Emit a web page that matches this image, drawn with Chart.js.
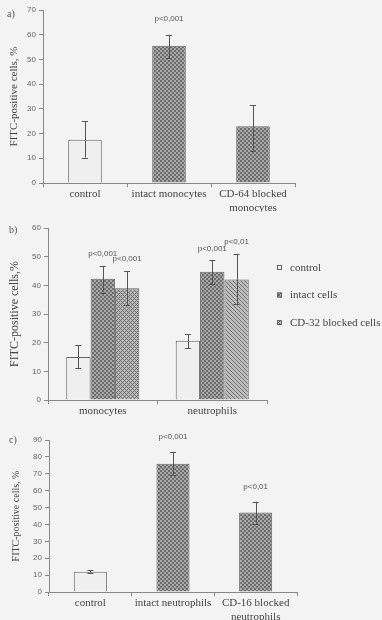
<!DOCTYPE html>
<html>
<head>
<meta charset="utf-8">
<script src="https://cdn.jsdelivr.net/npm/chart.js@4"></script>
<style>
  body { margin: 0; background: #f3f3f3; width: 382px; height: 620px; overflow: hidden; position: relative; }
  .panel { position: absolute; left: 0; }
  .tag { position: absolute; font: 10px 'Liberation Serif', serif; color: #555; }
</style>
</head>
<body>
<div class="panel" style="top:0"><canvas id="chartA" width="382" height="212"></canvas></div>
<div class="panel" style="top:212px"><canvas id="chartB" width="382" height="206"></canvas></div>
<div class="panel" style="top:418px"><canvas id="chartC" width="382" height="202"></canvas></div>
<span class="tag" style="left:7px;top:8px">a)</span>
<span class="tag" style="left:9px;top:224px">b)</span>
<span class="tag" style="left:9px;top:434px">c)</span>
<script>
// panel a
const aLabels = ['control', 'intact monocytes', ['CD-64 blocked', 'monocytes']];
const aValues = [17.5, 55.5, 23];
const aLow = [10.3, 50.5, 13];
const aHigh = [25, 60, 31.5];
const aP = ['', 'p<0,001', ''];

// panel b
const bLabels = ['monocytes', 'neutrophils'];
const bSeries = ['control', 'intact cells', 'CD-32 blocked cells'];
const bControl = [15, 20.7];
const bControlLow = [11, 18];
const bControlHigh = [19.2, 23];
const bIntact = [42.3, 44.7];
const bIntactLow = [37.5, 40.5];
const bIntactHigh = [46.8, 48.7];
const bBlocked = [39, 42];
const bBlockedLow = [33, 33.5];
const bBlockedHigh = [45, 51];
const bIntactP = ['p<0,001', 'p<0,001'];
const bBlockedP = ['p<0,001', 'p<0,01'];

// panel c
const cLabels = ['control', 'intact neutrophils', ['CD-16 blocked', 'neutrophils']];
const cValues = [12, 76, 47];
const cLow = [11, 69, 40];
const cHigh = [13, 83, 53.5];
const cP = ['', 'p<0,001', 'p<0,01'];

function makePattern(kind) {
  const c = document.createElement('canvas');
  c.width = 4; c.height = 4;
  const g = c.getContext('2d');
  if (kind === 'checker') {
    g.fillStyle = '#a8a8a8'; g.fillRect(0, 0, 4, 4);
    g.fillStyle = '#6c6c6c';
    g.fillRect(0, 0, 2, 2); g.fillRect(2, 2, 2, 2);
  } else if (kind === 'cross') {
    g.fillStyle = '#b8b8b8'; g.fillRect(0, 0, 4, 4);
    g.fillStyle = '#727272';
    for (let x = 0; x < 4; x++) for (let y = 0; y < 4; y++)
      if ((x + y) % 4 === 0 || ((x - y) + 4) % 4 === 0) g.fillRect(x, y, 1, 1);
  } else {
    g.fillStyle = '#bdbdbd'; g.fillRect(0, 0, 4, 4);
    g.fillStyle = '#707070';
    for (let x = 0; x < 4; x++) for (let y = 0; y < 4; y++)
      if (((x - y) + 4) % 4 === 0) g.fillRect(x, y, 1, 1);
  }
  return g.createPattern(c, 'repeat');
}
const pChecker = makePattern('checker');
const pCross = makePattern('cross');
const pStripe = makePattern('stripe');
const lightFill = '#efefef';

const serif = "'Liberation Serif', 'Times New Roman', serif";
const sans = "'Liberation Sans', Arial, sans-serif";

const errorBars = {
  id: 'errorBars',
  afterDatasetsDraw(chart) {
    const ctx = chart.ctx;
    const y = chart.scales.y;
    const pOff = chart.options.pOffset || 13;
    chart.data.datasets.forEach((ds, i) => {
      const meta = chart.getDatasetMeta(i);
      meta.data.forEach((bar, j) => {
        const yl = y.getPixelForValue(ds.errLow[j]);
        const yh = y.getPixelForValue(ds.errHigh[j]);
        ctx.save();
        ctx.strokeStyle = '#555';
        ctx.lineWidth = 1;
        ctx.beginPath();
        ctx.moveTo(Math.round(bar.x) + 0.5, yl); ctx.lineTo(Math.round(bar.x) + 0.5, yh);
        ctx.moveTo(bar.x - 3, Math.round(yl) + 0.5); ctx.lineTo(bar.x + 3, Math.round(yl) + 0.5);
        ctx.moveTo(bar.x - 3, Math.round(yh) + 0.5); ctx.lineTo(bar.x + 3, Math.round(yh) + 0.5);
        ctx.stroke();
        if (ds.pText && ds.pText[j]) {
          ctx.fillStyle = '#555';
          ctx.font = '8px ' + sans;
          ctx.textAlign = 'center';
          ctx.textBaseline = 'middle';
          ctx.fillText(ds.pText[j], bar.x, yh - pOff);
        }
        ctx.restore();
      });
    });
  }
};

const sideLegend = {
  id: 'sideLegend',
  afterDraw(chart) {
    if (!chart.options.sideLegend) return;
    const ctx = chart.ctx;
    const fills = [lightFill, pChecker, pCross];
    bSeries.forEach((name, i) => {
      const yy = 56 + i * 27.5;
      ctx.save();
      ctx.fillStyle = fills[i];
      ctx.fillRect(277, yy - 3, 5, 5);
      ctx.strokeStyle = '#666';
      ctx.lineWidth = 1;
      ctx.strokeRect(277.5, yy - 2.5, 4, 4);
      ctx.fillStyle = '#444';
      ctx.font = '11px ' + serif;
      ctx.textBaseline = 'middle';
      ctx.fillText(name, 290, yy);
      ctx.restore();
    });
  }
};

function makeOptions(o) {
  return {
    responsive: false,
    animation: false,
    pOffset: o.pOffset,
    sideLegend: o.sideLegend,
    layout: { padding: { top: o.top, right: o.right, left: 0, bottom: 0 } },
    plugins: { legend: { display: false }, tooltip: { enabled: false } },
    scales: {
      x: {
        grid: { drawOnChartArea: false, offset: true, tickLength: 4, color: '#888' },
        border: { color: '#888' },
        ticks: { color: '#444', font: { family: serif, size: 11 }, padding: 1, maxRotation: 0, autoSkip: false },
        afterFit: (s) => { s.height = o.xh; }
      },
      y: {
        min: 0, max: o.max,
        grid: { drawOnChartArea: false, tickLength: 4, color: '#888' },
        border: { color: '#888' },
        ticks: { stepSize: 10, color: '#666', font: { family: sans, size: 8 }, padding: 3 },
        title: { display: true, text: o.title, color: '#444', font: { family: serif, size: o.titleSize }, padding: { top: o.titlePad, bottom: 0 } },
        afterFit: (s) => { s.width = o.yw; }
      }
    }
  };
}

new Chart(document.getElementById('chartA'), {
  type: 'bar',
  data: {
    labels: aLabels,
    datasets: [{
      data: aValues, errLow: aLow, errHigh: aHigh, pText: aP,
      backgroundColor: [lightFill, pChecker, pChecker],
      borderColor: '#666', borderWidth: 1,
      barPercentage: 0.4, categoryPercentage: 1
    }]
  },
  options: makeOptions({ top: 10, right: 87, xh: 29, yw: 43, max: 70, title: 'FITC-positive cells, %', titleSize: 11, titlePad: 8, pOffset: 16 }),
  plugins: [errorBars]
});

new Chart(document.getElementById('chartB'), {
  type: 'bar',
  data: {
    labels: bLabels,
    datasets: [
      { label: bSeries[0], data: bControl, errLow: bControlLow, errHigh: bControlHigh,
        backgroundColor: lightFill, borderColor: '#666', borderWidth: 1, barPercentage: 1, categoryPercentage: 0.667 },
      { label: bSeries[1], data: bIntact, errLow: bIntactLow, errHigh: bIntactHigh, pText: bIntactP,
        backgroundColor: pChecker, borderColor: '#666', borderWidth: 1, barPercentage: 1, categoryPercentage: 0.667 },
      { label: bSeries[2], data: bBlocked, errLow: bBlockedLow, errHigh: bBlockedHigh, pText: bBlockedP,
        backgroundColor: [pCross, pStripe], borderColor: '#666', borderWidth: 1, barPercentage: 1, categoryPercentage: 0.667 }
    ]
  },
  options: makeOptions({ top: 16, right: 115, xh: 18, yw: 48, max: 60, title: 'FITC-positive cells,%', titleSize: 12, titlePad: 8, pOffset: 12, sideLegend: true }),
  plugins: [errorBars, sideLegend]
});

new Chart(document.getElementById('chartC'), {
  type: 'bar',
  data: {
    labels: cLabels,
    datasets: [{
      data: cValues, errLow: cLow, errHigh: cHigh, pText: cP,
      backgroundColor: [lightFill, pChecker, pChecker],
      borderColor: '#666', borderWidth: 1,
      barPercentage: 0.4, categoryPercentage: 1
    }]
  },
  options: makeOptions({ top: 22, right: 85, xh: 28, yw: 49, max: 90, title: 'FITC-positive cells, %', titleSize: 10, titlePad: 10, pOffset: 15 }),
  plugins: [errorBars]
});
</script>
</body>
</html>
